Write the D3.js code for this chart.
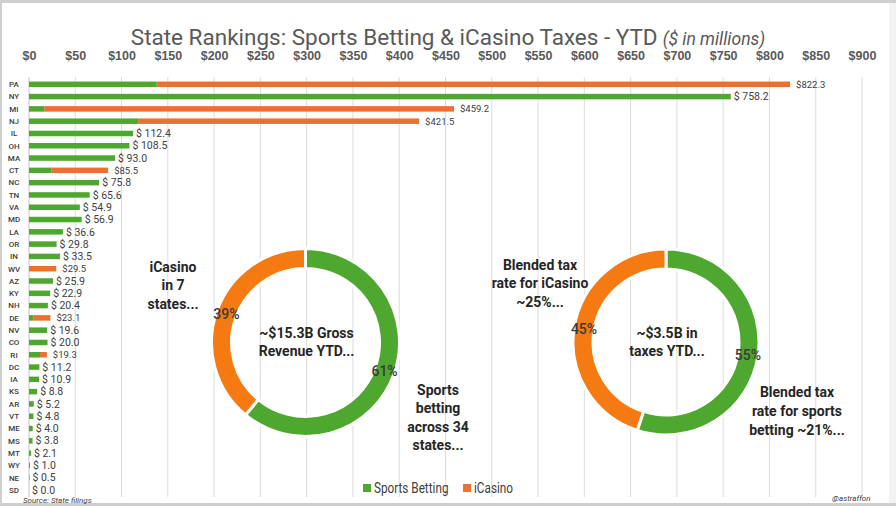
<!DOCTYPE html>
<html><head><meta charset="utf-8">
<script src="https://cdn.jsdelivr.net/npm/d3@7"></script>
<style>
html,body{margin:0;padding:0;background:#fff;}
svg{display:block;}
</style></head>
<body>
<svg id="c" width="896" height="506"></svg>
<script>
// ---- data ----
const states = ["PA","NY","MI","NJ","IL","OH","MA","CT","NC","TN","VA","MD","LA","OR","IN","WV","AZ","KY","NH","DE","NV","CO","RI","DC","IA","KS","AR","VT","ME","MS","MT","WY","NE","SD"];
const sportsBetting = [138,758.2,16.5,118,112.4,108.5,93.0,24.5,75.8,65.6,54.9,56.9,36.6,29.8,33.5,0,25.9,22.9,20.4,4.7,19.6,20.0,11.9,11.2,10.9,8.8,5.2,4.8,4.0,3.8,2.1,1.0,0.5,0.0];
const iCasinoTotal = [822.3,null,459.2,421.5,null,null,null,85.5,null,null,null,null,null,null,null,29.5,null,null,null,23.1,null,null,19.3,null,null,null,null,null,null,null,null,null,null,null];
const xTicks = [0,50,100,150,200,250,300,350,400,450,500,550,600,650,700,750,800,850,900];
const revenueShare = [{name:"Sports Betting", value:61},{name:"iCasino", value:39}];
const taxShare = [{name:"Sports Betting", value:55},{name:"iCasino", value:45}];
const revenueCenter = ["~$15.3B Gross","Revenue YTD..."];
const taxCenter = ["~$3.5B in","taxes YTD..."];
const noteICasino1 = ["iCasino","in 7","states..."];
const noteSports1 = ["Sports","betting","across 34","states..."];
const noteICasino2 = ["Blended tax","rate for iCasino","~25%..."];
const noteSports2 = ["Blended tax","rate for sports","betting ~21%..."];
const legendItems = ["Sports Betting","iCasino"];

// ---- drawing ----
const svg = d3.select("#c");
const W = 896, H = 506;
const GREEN = "#4EA72E", ORANGE = "#E97132", DONUT_ORANGE = "#F57A12";

// frame
svg.append("rect").attr("x",0).attr("y",0).attr("width",W).attr("height",H).attr("fill","#cfcfcf");
svg.append("rect").attr("x",2).attr("y",3).attr("width",887).attr("height",500).attr("fill","#fff");
svg.append("rect").attr("x",889).attr("y",3).attr("width",7).attr("height",500).attr("fill","#f2f2f2");

const x = d3.scaleLinear().domain([0,900]).range([29,862]);
const y = d3.scalePoint().domain(states).range([84.3,490]);
const barH = 5.5;

// gridlines
svg.append("g").selectAll("line").data(xTicks).join("line")
  .attr("x1",d=>x(d)).attr("x2",d=>x(d)).attr("y1",77).attr("y2",497)
  .attr("stroke",d=>d===0?"#c4c4c4":"#dcdcdc").attr("stroke-width",1);

// top axis labels
const axis = d3.axisTop(x).tickValues(xTicks).tickSize(0).tickFormat(d=>"$"+d);
const ag = svg.append("g").attr("transform","translate(0,63)").call(axis);
ag.select(".domain").remove();
ag.selectAll("text").attr("font-family","'Liberation Sans',Arial,sans-serif").attr("font-weight","bold")
  .attr("font-size","12.5px").attr("fill","#595959");

// title
const title = svg.append("text").attr("x",448).attr("y",45).attr("text-anchor","middle")
  .attr("font-family","Roboto, 'Open Sans', sans-serif").attr("fill","#595959");
title.append("tspan").attr("font-size","22.5px").attr("font-weight","400").text("State Rankings: Sports Betting & iCasino Taxes - YTD");
title.append("tspan").attr("dx","5").attr("font-size","17.5px").attr("font-style","italic").text("($ in millions)");

// state labels
svg.append("g").selectAll("text").data(states).join("text")
  .attr("x",14).attr("y",d=>y(d)).attr("dy","0.35em").attr("text-anchor","middle")
  .attr("font-family","Roboto, sans-serif").attr("font-size","8px").attr("font-weight","500").attr("fill","#404040")
  .text(d=>d);

const rows = states.map((s,i)=>({s, sp:sportsBetting[i], tot:iCasinoTotal[i]}));

// orange (iCasino) part
svg.append("g").selectAll("rect").data(rows.filter(r=>r.tot!=null)).join("rect")
  .attr("x",r=>x(r.sp)).attr("y",r=>y(r.s)-barH/2).attr("width",r=>x(r.tot)-x(r.sp)).attr("height",barH)
  .attr("fill",ORANGE);
// green (sports) part
svg.append("g").selectAll("rect").data(rows.filter(r=>r.sp>0)).join("rect")
  .attr("x",x(0)).attr("y",r=>y(r.s)-barH/2).attr("width",r=>x(r.sp)-x(0)).attr("height",barH)
  .attr("fill",GREEN);

// value labels
svg.append("g").selectAll("text").data(rows).join("text")
  .attr("x",r=>r.tot!=null ? x(r.tot)+6 : x(r.sp)+3)
  .attr("y",r=>y(r.s)).attr("dy","0.35em")
  .attr("font-family","Roboto, sans-serif")
  .attr("font-size",r=>r.tot!=null?"9.5px":"10.5px")
  .attr("fill","#404040")
  .text(r=>r.tot!=null ? "$"+r.tot.toFixed(1) : "$ "+r.sp.toFixed(1));

// donuts
function donut(cx, cy, data, centerLines, outer, inner){
  const g = svg.append("g").attr("transform",`translate(${cx},${cy})`);
  const pie = d3.pie().sort(null).value(d=>d.value);
  const arc = d3.arc().innerRadius(inner).outerRadius(outer);
  const arcs = pie(data);
  g.selectAll("path").data(arcs).join("path").attr("d",arc)
    .attr("fill",d=>d.data.name==="iCasino"?DONUT_ORANGE:GREEN)
    .attr("stroke","#fff").attr("stroke-width",3);
  g.selectAll("text.p").data(arcs).join("text").attr("class","p")
    .attr("transform",d=>`translate(${arc.centroid(d)})`).attr("text-anchor","middle").attr("dy","0.35em")
    .attr("font-family","Roboto, sans-serif").attr("font-size","14px").attr("font-weight","500").attr("fill","#3a3a3a")
    .text(d=>d.data.value+"%");
  g.selectAll("text.c").data(centerLines).join("text").attr("class","c")
    .attr("x",1).attr("y",(d,i)=>(i-0.5)*18).attr("dy","0.35em").attr("text-anchor","middle")
    .attr("font-family","Roboto, sans-serif").attr("font-size","14px").attr("font-weight","bold").attr("fill","#262626")
    .text(d=>d);
}
donut(305.5, 342.5, revenueShare, revenueCenter, 94, 74);
donut(666, 342, taxShare, taxCenter, 93, 73);

function note(cx, y0, lines, step){
  svg.append("g").selectAll("text").data(lines).join("text")
    .attr("x",cx).attr("y",(d,i)=>y0+i*step).attr("dy","0.35em").attr("text-anchor","middle")
    .attr("font-family","Roboto, sans-serif").attr("font-size","14px").attr("font-weight","bold").attr("fill","#262626")
    .text(d=>d);
}
note(173, 267, noteICasino1, 18.5);
note(438, 390, noteSports1, 18.5);
note(540, 265, noteICasino2, 18.5);
note(797, 392, noteSports2, 19);

// legend
const lg = svg.append("g").attr("transform","translate(363,488)");
const li = lg.selectAll("g").data(legendItems).join("g").attr("transform",(d,i)=>`translate(${i*100},0)`);
li.append("rect").attr("x",0).attr("y",-4).attr("width",8).attr("height",8).attr("fill",(d,i)=>i===0?GREEN:ORANGE);
li.append("text").attr("transform","translate(11,0) scale(0.84,1)").attr("dy","0.35em")
  .attr("font-family","Roboto, sans-serif").attr("font-size","14px").attr("fill","#404040").text(d=>d);

// footnotes
svg.append("text").attr("x",23).attr("y",502.5).attr("font-family","Roboto, sans-serif").attr("font-size","8px")
  .attr("font-style","italic").attr("fill","#404040").text("Source: State filings");
svg.append("text").attr("x",832).attr("y",501).attr("font-family","Roboto, sans-serif").attr("font-size","8px")
  .attr("font-style","italic").attr("fill","#404040").text("@astraffon");
</script>
</body></html>
